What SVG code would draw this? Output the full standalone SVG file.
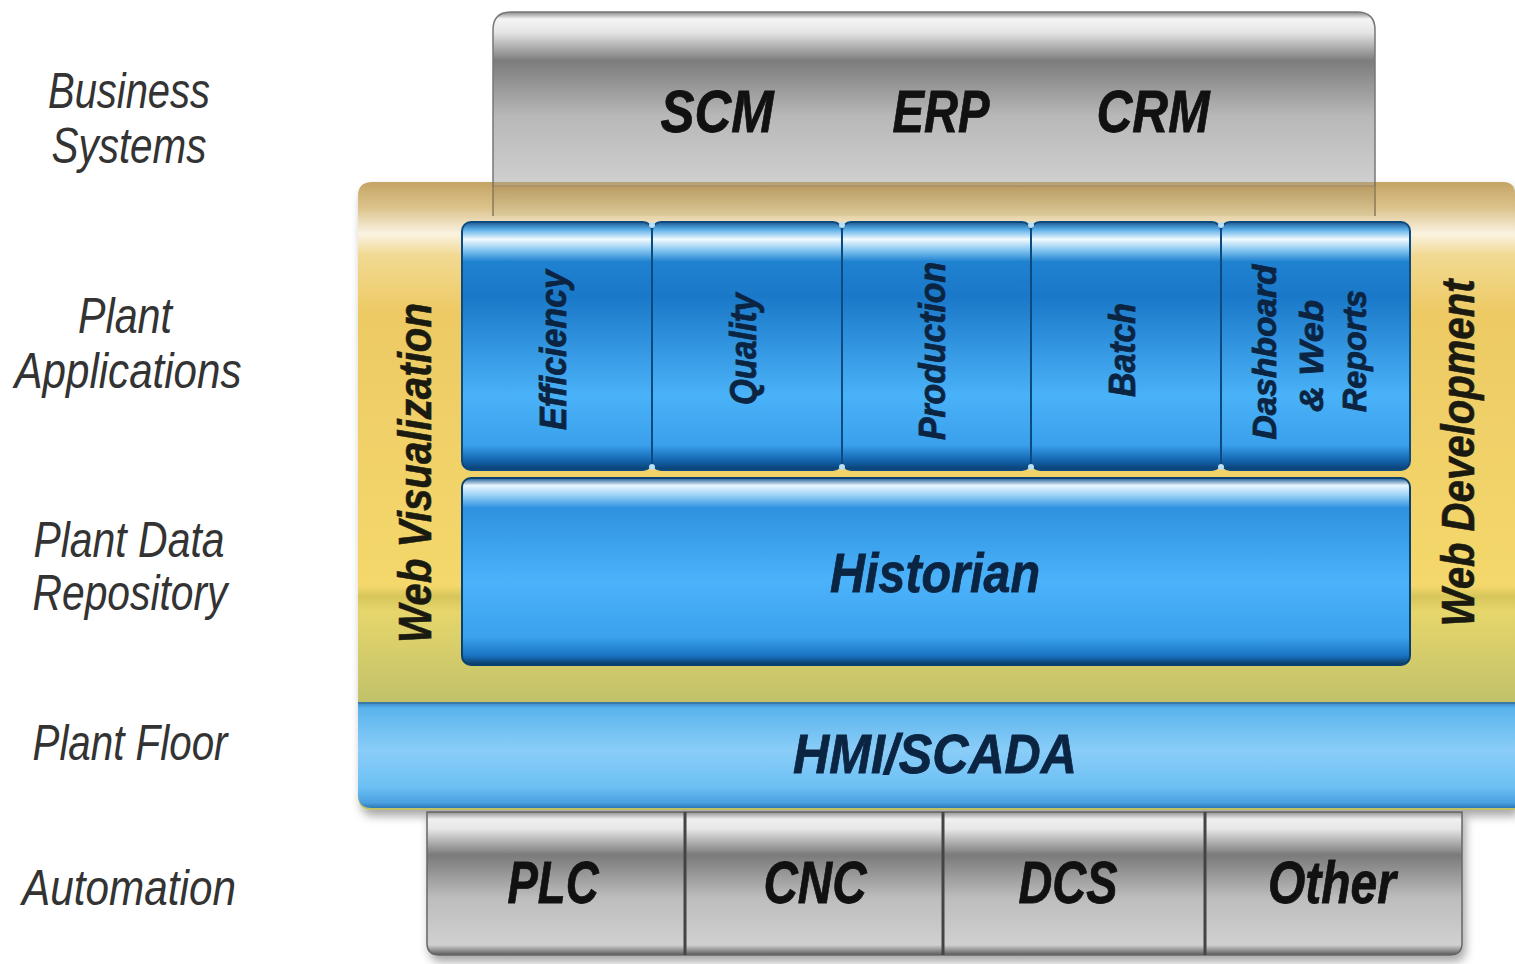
<svg xmlns="http://www.w3.org/2000/svg" width="1515" height="964" viewBox="0 0 1515 964">
<defs>
<linearGradient id="gTop" x1="0" y1="0" x2="0" y2="1">
<stop offset="0" stop-color="#888"/><stop offset="0.04" stop-color="#f5f5f5"/><stop offset="0.12" stop-color="#e4e4e4"/><stop offset="0.28" stop-color="#7c7c7c"/><stop offset="0.6" stop-color="#b8b8b8"/><stop offset="1" stop-color="#d0d0d0"/>
</linearGradient>
<linearGradient id="gBot" x1="0" y1="0" x2="0" y2="1">
<stop offset="0" stop-color="#909090"/><stop offset="0.05" stop-color="#f0f0f0"/><stop offset="0.12" stop-color="#e6e6e6"/><stop offset="0.3" stop-color="#7a7a7a"/><stop offset="0.6" stop-color="#bdbdbd"/><stop offset="0.93" stop-color="#d0d0d0"/><stop offset="1" stop-color="#5a5a5a"/>
</linearGradient>
<linearGradient id="gFrame" gradientUnits="userSpaceOnUse" x1="0" y1="182" x2="0" y2="700">
<stop offset="0" stop-color="#c4a464"/><stop offset="0.05" stop-color="#dcc38c"/><stop offset="0.1" stop-color="#faf3e2"/><stop offset="0.14" stop-color="#f2da94"/><stop offset="0.25" stop-color="#edca64"/><stop offset="0.78" stop-color="#f4d86c"/><stop offset="0.8" stop-color="#d6c65a"/><stop offset="0.83" stop-color="#e6d66c"/><stop offset="1" stop-color="#c2c26a"/>
</linearGradient>
<linearGradient id="gTan" x1="0" y1="0" x2="0" y2="1">
<stop offset="0" stop-color="#b09058"/><stop offset="1" stop-color="#d8c898"/>
</linearGradient>
<linearGradient id="gCol" x1="0" y1="0" x2="0" y2="1">
<stop offset="0" stop-color="#1b5a90"/><stop offset="0.03" stop-color="#5aaee8"/><stop offset="0.07" stop-color="#f2faff"/><stop offset="0.11" stop-color="#8ccaf2"/><stop offset="0.16" stop-color="#1f82d0"/><stop offset="0.3" stop-color="#1a78c8"/><stop offset="0.7" stop-color="#4ab2f8"/><stop offset="0.9" stop-color="#3aa0ec"/><stop offset="0.96" stop-color="#1466b0"/><stop offset="1" stop-color="#0a3e70"/>
</linearGradient>
<linearGradient id="gHist" x1="0" y1="0" x2="0" y2="1">
<stop offset="0" stop-color="#1a5a90"/><stop offset="0.04" stop-color="#e8f6ff"/><stop offset="0.09" stop-color="#9fd4f6"/><stop offset="0.16" stop-color="#2e92e0"/><stop offset="0.55" stop-color="#4cb2fa"/><stop offset="0.85" stop-color="#3aa2ee"/><stop offset="0.95" stop-color="#1a74c4"/><stop offset="1" stop-color="#08385e"/>
</linearGradient>
<linearGradient id="gHmi" x1="0" y1="0" x2="0" y2="1">
<stop offset="0" stop-color="#3a8ac8"/><stop offset="0.05" stop-color="#5ab4ec"/><stop offset="0.45" stop-color="#8acdf8"/><stop offset="0.8" stop-color="#6cc0f4"/><stop offset="0.95" stop-color="#4aa0e0"/><stop offset="1" stop-color="#2a78b8"/>
</linearGradient>
<filter id="sh" x="-5%" y="-5%" width="110%" height="115%">
<feDropShadow dx="3" dy="6" stdDeviation="5" flood-color="#000" flood-opacity="0.35"/>
</filter>
</defs>
<style>
.lbl{font-family:"Liberation Sans",Arial,sans-serif;font-style:italic;font-size:50px;fill:#333;text-anchor:middle}
.big{font-family:"Liberation Sans",Arial,sans-serif;font-style:italic;font-weight:bold;font-size:60px;fill:#111;stroke:#111;stroke-width:0.8;text-anchor:middle}
.blu{font-family:"Liberation Sans",Arial,sans-serif;font-style:italic;font-weight:bold;fill:#0b2442;stroke:#0b2442;stroke-width:0.8;text-anchor:middle}
.web{font-family:"Liberation Sans",Arial,sans-serif;font-style:italic;font-weight:bold;font-size:46px;fill:#1a1a10;stroke:#1a1a10;stroke-width:0.6;text-anchor:middle}
.col{fill:url(#gCol);stroke:#0d4a80;stroke-width:2}
.gsep{stroke:#444;stroke-width:3}
</style>

<g id="layer-labels">
<text class="lbl" x="129" y="108" textLength="162" lengthAdjust="spacingAndGlyphs">Business</text>
<text class="lbl" x="129" y="163" textLength="155" lengthAdjust="spacingAndGlyphs">Systems</text>
<text class="lbl" x="125" y="333" textLength="94" lengthAdjust="spacingAndGlyphs">Plant</text>
<text class="lbl" x="128" y="388" textLength="227" lengthAdjust="spacingAndGlyphs">Applications</text>
<text class="lbl" x="129" y="557" textLength="191" lengthAdjust="spacingAndGlyphs">Plant Data</text>
<text class="lbl" x="130" y="610" textLength="195" lengthAdjust="spacingAndGlyphs">Repository</text>
<text class="lbl" x="130" y="760" textLength="195" lengthAdjust="spacingAndGlyphs">Plant Floor</text>
<text class="lbl" x="129" y="905" textLength="214" lengthAdjust="spacingAndGlyphs">Automation</text>
</g>

<g id="frame">
<path d="M372 182 H1503 Q1515 182 1515 194 V810 H372 Q358 810 358 796 V196 Q358 182 372 182 Z" fill="url(#gFrame)" filter="url(#sh)"/>
</g>

<g id="business-systems">
<path d="M511 12 H1357 Q1375 12 1375 30 V186 H493 V30 Q493 12 511 12 Z" fill="url(#gTop)" stroke="#777" stroke-width="1.5"/>
<rect x="493" y="182" width="882" height="34" fill="url(#gTan)" opacity="0.75"/>
<line x1="493" y1="182" x2="493" y2="216" stroke="#8a7a58" stroke-width="1.5"/>
<line x1="1375" y1="182" x2="1375" y2="216" stroke="#8a7a58" stroke-width="1.5"/>
<text class="big" x="717" y="132" textLength="113" lengthAdjust="spacingAndGlyphs">SCM</text>
<text class="big" x="941" y="132" textLength="97" lengthAdjust="spacingAndGlyphs">ERP</text>
<text class="big" x="1153" y="132" textLength="113" lengthAdjust="spacingAndGlyphs">CRM</text>
</g>

<g id="web-visualization">
<text class="web" transform="translate(431 473) rotate(-90)" textLength="340" lengthAdjust="spacingAndGlyphs">Web Visualization</text>
</g>
<g id="web-development">
<text class="web" transform="translate(1474 453) rotate(-90)" textLength="347" lengthAdjust="spacingAndGlyphs">Web Development</text>
</g>

<g id="app-efficiency">
<rect class="col" x="462" y="222" width="190" height="248" rx="9"/>
<text class="blu" font-size="36" transform="translate(566 350) rotate(-90)" textLength="160" lengthAdjust="spacingAndGlyphs">Efficiency</text>
</g>
<g id="app-quality">
<rect class="col" x="652" y="222" width="190" height="248" rx="9"/>
<text class="blu" font-size="36" transform="translate(756 349) rotate(-90)" textLength="112" lengthAdjust="spacingAndGlyphs">Quality</text>
</g>
<g id="app-production">
<rect class="col" x="842" y="222" width="189" height="248" rx="9"/>
<text class="blu" font-size="36" transform="translate(945 351) rotate(-90)" textLength="178" lengthAdjust="spacingAndGlyphs">Production</text>
</g>
<g id="app-batch">
<rect class="col" x="1031" y="222" width="190" height="248" rx="9"/>
<text class="blu" font-size="36" transform="translate(1135 350) rotate(-90)" textLength="94" lengthAdjust="spacingAndGlyphs">Batch</text>
</g>
<g id="app-dashboard">
<rect class="col" x="1221" y="222" width="189" height="248" rx="9"/>
<text class="blu" font-size="34" transform="translate(1276 352) rotate(-90)" textLength="175" lengthAdjust="spacingAndGlyphs">Dashboard</text>
<text class="blu" font-size="34" transform="translate(1323 356) rotate(-90)" textLength="112" lengthAdjust="spacingAndGlyphs">&amp; Web</text>
<text class="blu" font-size="34" transform="translate(1366 351) rotate(-90)" textLength="122" lengthAdjust="spacingAndGlyphs">Reports</text>
</g>
<g id="column-joints" fill="#b8e0f8">
<circle cx="652" cy="225" r="3"/><circle cx="842" cy="225" r="3"/><circle cx="1031" cy="225" r="3"/><circle cx="1221" cy="225" r="3"/>
<circle cx="652" cy="467" r="3"/><circle cx="842" cy="467" r="3"/><circle cx="1031" cy="467" r="3"/><circle cx="1221" cy="467" r="3"/>
</g>

<g id="historian">
<rect x="462" y="478" width="948" height="187" rx="9" fill="url(#gHist)" stroke="#0a4070" stroke-width="2"/>
<text class="blu" font-size="56" x="935" y="592" textLength="210" lengthAdjust="spacingAndGlyphs">Historian</text>
</g>

<g id="hmi-scada">
<path d="M358 703 H1515 V808 H372 Q358 808 358 794 Z" fill="url(#gHmi)"/>
<line x1="358" y1="703" x2="1515" y2="703" stroke="#3a7aa8" stroke-width="2"/>
<text class="blu" font-size="56" x="935" y="773" textLength="284" lengthAdjust="spacingAndGlyphs">HMI/SCADA</text>
</g>

<g id="automation">
<path d="M427 812 H1462 V943 Q1462 955 1450 955 H439 Q427 955 427 943 Z" fill="url(#gBot)" stroke="#666" stroke-width="1.5" filter="url(#sh)"/>
<line class="gsep" x1="685" y1="812" x2="685" y2="955"/>
<line class="gsep" x1="943" y1="812" x2="943" y2="955"/>
<line class="gsep" x1="1205" y1="812" x2="1205" y2="955"/>
</g>
<g id="auto-plc"><text class="big" x="553" y="903" textLength="91" lengthAdjust="spacingAndGlyphs">PLC</text></g>
<g id="auto-cnc"><text class="big" x="815" y="903" textLength="103" lengthAdjust="spacingAndGlyphs">CNC</text></g>
<g id="auto-dcs"><text class="big" x="1068" y="903" textLength="99" lengthAdjust="spacingAndGlyphs">DCS</text></g>
<g id="auto-other"><text class="big" x="1332" y="903" textLength="128" lengthAdjust="spacingAndGlyphs">Other</text></g>

<g id="connectors"/>
</svg>
